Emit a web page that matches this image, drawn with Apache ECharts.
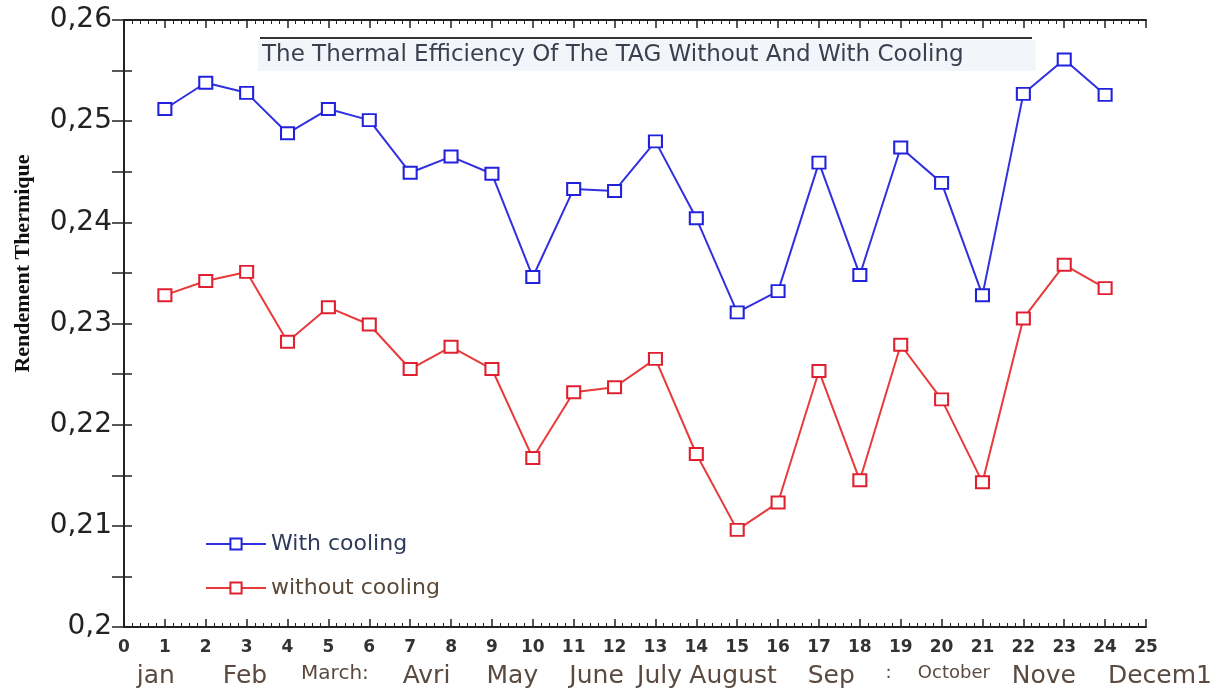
<!DOCTYPE html>
<html><head><meta charset="utf-8">
<script src="https://cdn.jsdelivr.net/npm/echarts@6/dist/echarts.min.js"></script>
<style>html,body{margin:0;padding:0;background:#fff}#c{width:1220px;height:692px}</style>
</head><body><div id="c"></div>
<script>
const xValues = [1,2,3,4,5,6,7,8,9,10,11,12,13,14,15,16,17,18,19,20,21,22,23,24];
const withCooling = [0.2512,0.2538,0.2528,0.2488,0.2512,0.2501,0.2449,0.2465,0.2448,0.2346,0.2433,0.2431,0.2480,0.2404,0.2311,0.2332,0.2459,0.2348,0.2474,0.2439,0.2328,0.2527,0.2561,0.2526];
const withoutCooling = [0.2328,0.2342,0.2351,0.2282,0.2316,0.2299,0.2255,0.2277,0.2255,0.2167,0.2232,0.2237,0.2265,0.2171,0.2096,0.2123,0.2253,0.2145,0.2279,0.2225,0.2143,0.2305,0.2358,0.2335];
const monthLabels = ['jan','Feb','March:','Avri','May','June','July','August','Sep',':','October','Nove','Decem1'];
const monthPos = [0.78,2.96,5.16,7.4,9.5,11.56,13.1,14.9,17.3,18.7,20.3,22.5,25];
const smallMonths = ['October',':'];
const titleText = 'The Thermal Efficiency Of The TAG Without And With Cooling';
const yName = 'Rendement Thermique';

const chart = echarts.init(document.getElementById('c'));
const fmtY = v => parseFloat(v.toFixed(2)).toString().replace('.', ',');
const axisLine = {show:true, lineStyle:{color:'#222', width:2}};
const SANS = 'DejaVu Sans';
chart.setOption({
  animation:false,
  backgroundColor:'#fff',
  title:{text:titleText, left:258, top:40, padding:[4,72,4,4], backgroundColor:'#f2f5f9',
    textStyle:{fontFamily:SANS, fontSize:23, fontWeight:'normal', color:'#3a4050'}},
  graphic:[{type:'line', shape:{x1:260,y1:38,x2:1032,y2:38}, style:{stroke:'#333', lineWidth:2}}],
  grid:{left:124, right:74, top:20, bottom:65, containLabel:false, outerBoundsMode:'none'},
  legend:{orient:'vertical', left:200, top:528, itemGap:22, itemWidth:60, itemHeight:14,
    textStyle:{fontFamily:SANS, fontSize:22},
    data:[{name:'With cooling', textStyle:{color:'#2e3a5c'}},{name:'without cooling', textStyle:{color:'#5a4838'}}]},
  xAxis:[
    {type:'value', min:0, max:25, interval:1, position:'bottom', axisLine,
      axisTick:{inside:true, length:8, lineStyle:{color:'#222', width:1.5}},
      minorTick:{show:true, splitNumber:5, length:4, lineStyle:{color:'#222'}},
      splitLine:{show:false},
      axisLabel:{fontFamily:SANS, fontWeight:'bold', fontSize:17, color:'#333', margin:12}},
    {type:'value', min:0, max:25, interval:1, position:'top', axisLine,
      axisTick:{inside:true, length:8, lineStyle:{color:'#222', width:1.5}},
      minorTick:{show:true, splitNumber:5, length:4, lineStyle:{color:'#222'}},
      splitLine:{show:false}, axisLabel:{show:false}},
    {type:'value', min:0, max:25, position:'bottom', offset:29, axisLine:{show:false},
      axisTick:{show:false}, splitLine:{show:false},
      axisLabel:{customValues:monthPos, showMinLabel:true, showMaxLabel:true, hideOverlap:false,
        formatter:v => { const i = monthPos.indexOf(v); const s = monthLabels[i];
          if (smallMonths.includes(s)) return '{s|'+s+'}';
          if (s === 'March:') return '{m|'+s+'}';
          if (i === monthLabels.length-1) return '{r|'+s+'}';
          return s; },
        fontFamily:SANS, fontSize:25, color:'#5a4a40',
        rich:{s:{fontFamily:SANS, fontSize:18, color:'#5a4a40'},
              m:{fontFamily:SANS, fontSize:20, color:'#5a4a40'},
              r:{fontFamily:SANS, fontSize:25, color:'#5a4a40', padding:[0,0,0,28]}}}}
  ],
  yAxis:[
    {type:'value', min:0.2, max:0.26, interval:0.01, position:'left', axisLine,
      name:yName, nameLocation:'middle', nameGap:90, nameRotate:90,
      nameTextStyle:{fontFamily:'Liberation Serif, Times New Roman', fontWeight:'bold', fontSize:22, color:'#111', padding:[0,0,0,120]},
      axisTick:{inside:true, length:8, lineStyle:{color:'#222', width:1.5}},
      minorTick:{show:true, splitNumber:2, length:8, lineStyle:{color:'#222', width:1.5}},
      splitLine:{show:false},
      axisLabel:{formatter:fmtY, fontFamily:SANS, fontSize:28, color:'#222', margin:12}},
    {type:'value', min:0.2, max:0.26, interval:0.005, position:'right', axisLine,
      axisTick:{inside:true, length:12, lineStyle:{color:'#222', width:1.5}},
      splitLine:{show:false}, axisLabel:{show:false}}
  ],
  series:[
    {name:'With cooling', type:'line', xAxisIndex:0, yAxisIndex:0, data:xValues.map((x,i)=>[x,withCooling[i]]),
      symbol:'rect', symbolSize:[13,12], itemStyle:{color:'#fff', borderColor:'#2222dd', borderWidth:2},
      lineStyle:{color:'#3030e0', width:2}, color:'#2222dd'},
    {name:'without cooling', type:'line', xAxisIndex:0, yAxisIndex:0, data:xValues.map((x,i)=>[x,withoutCooling[i]]),
      symbol:'rect', symbolSize:[13,12], itemStyle:{color:'#fff', borderColor:'#e02030', borderWidth:2},
      lineStyle:{color:'#e83a3a', width:2}, color:'#e02030'}
  ]
});
</script></body></html>
